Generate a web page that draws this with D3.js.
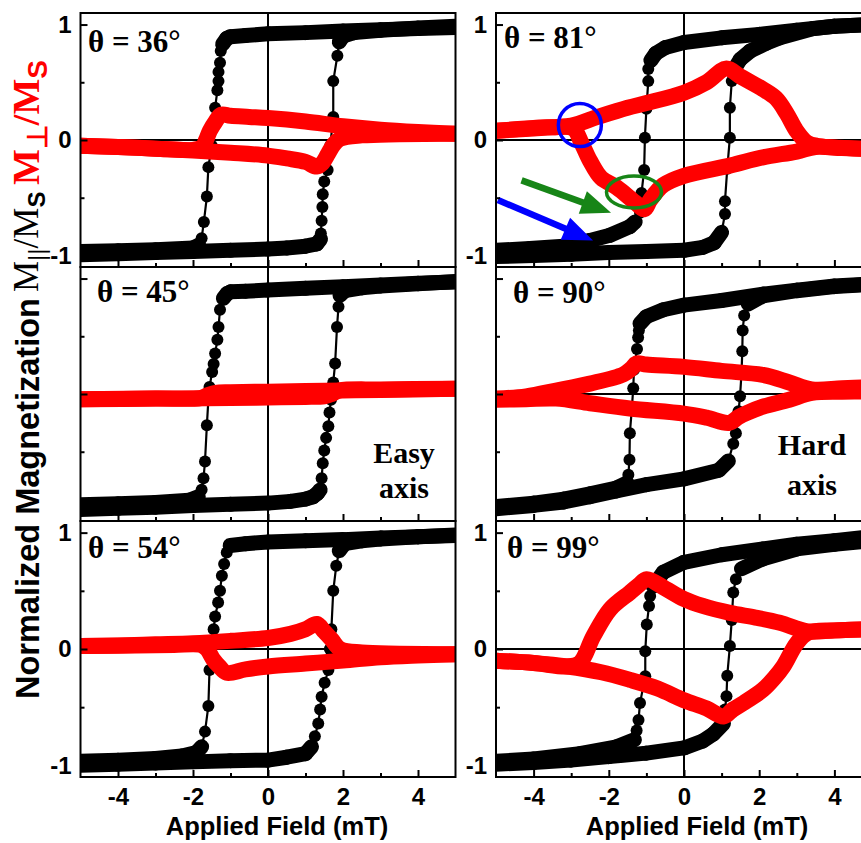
<!DOCTYPE html>
<html><head><meta charset="utf-8">
<script src="https://cdn.jsdelivr.net/npm/d3@7"></script>
<style>body{margin:0;background:#fff}svg{display:block}</style>
</head><body>
<svg id="chart" width="861" height="843"></svg>
<script>
// ---------------- DATA ----------------
const xMajorTicks = [-4, -2, 0, 2, 4];
const xMinorTicks = [-3, -1, 1, 3];
const yMajorTicks = [-1, 0, 1];
const yMinorTicks = [-0.5, 0.5];
const angleLabels = ["θ = 36°", "θ = 81°", "θ = 45°", "θ = 90°", "θ = 54°", "θ = 99°"];

// theta = 36 deg
const parDown36 = [[5,0.975],[4,0.965],[3,0.955],[2,0.945],[1,0.93],[0,0.92],[-0.6,0.905],[-1.0,0.895],[-1.1,0.88],[-1.21,0.83],[-1.26,0.77],[-1.28,0.67],[-1.32,0.59],[-1.32,0.51],[-1.35,0.43],[-1.41,0.28],[-1.45,0.12],[-1.5,-0.05],[-1.59,-0.235],[-1.63,-0.49],[-1.71,-0.71],[-1.77,-0.85],[-1.85,-0.91],[-2.0,-0.935],[-3,-0.95],[-4,-0.96],[-5,-0.965]];
const parUp36 = [[-5,-0.995],[-4,-0.985],[-3,-0.975],[-2,-0.965],[-1,-0.955],[0,-0.945],[0.5,-0.935],[1,-0.92],[1.3,-0.9],[1.4,-0.86],[1.41,-0.81],[1.43,-0.70],[1.45,-0.58],[1.46,-0.47],[1.5,-0.36],[1.59,-0.26],[1.66,-0.05],[1.74,0.2],[1.74,0.51],[1.85,0.73],[1.9,0.85],[2.0,0.9],[2.3,0.93],[3,0.95],[4,0.97],[5,0.985]];
const perpUp36 = [[-5,-0.05],[-4,-0.06],[-3,-0.075],[-2,-0.09],[-1,-0.11],[0,-0.135],[0.5,-0.16],[1,-0.19],[1.3,-0.23],[1.45,-0.2],[1.6,-0.12],[1.75,-0.04],[1.92,0.01],[2.5,0.04],[3.5,0.05],[5,0.055]];
const perpDown36 = [[5,0.055],[4,0.07],[3,0.09],[2,0.12],[1,0.16],[0,0.19],[-0.5,0.2],[-1.0,0.21],[-1.25,0.22],[-1.4,0.16],[-1.55,0.08],[-1.65,0.0],[-1.75,-0.06],[-2,-0.085],[-3,-0.075],[-4,-0.06],[-5,-0.05]];

// theta = 81 deg
const parDown81 = [[5,1.0],[4,0.985],[3,0.95],[2,0.915],[1,0.885],[0,0.845],[-0.5,0.8],[-0.75,0.75],[-0.88,0.69],[-0.95,0.615],[-0.95,0.51],[-1.0,0.27],[-1.04,0.02],[-1.06,-0.26],[-1.13,-0.46],[-1.17,-0.63],[-1.3,-0.71],[-1.44,-0.75],[-1.97,-0.825],[-2.5,-0.87],[-3.2,-0.92],[-4.1,-0.94],[-5,-0.955]];
const parUp81 = [[-5,-1.01],[-4,-1.0],[-3,-0.99],[-2,-0.975],[-1,-0.965],[0,-0.955],[0.5,-0.93],[0.8,-0.89],[1.0,-0.8],[1.09,-0.64],[1.09,-0.53],[1.15,-0.25],[1.22,0.02],[1.22,0.28],[1.27,0.51],[1.35,0.62],[1.5,0.7],[1.76,0.77],[2.2,0.84],[2.55,0.885],[3.44,0.965],[4,0.985],[5,1.0]];
const perpUp81 = [[-5,0.08],[-4,0.105],[-3,0.125],[-2.3,0.2],[-1.5,0.28],[-1,0.32],[0,0.41],[0.6,0.5],[1.13,0.62],[1.5,0.55],[2.1,0.44],[2.45,0.36],[2.73,0.23],[2.99,0.08],[3.26,-0.02],[3.53,-0.05],[4.7,-0.075],[5,-0.08]];
const perpDown81 = [[5,-0.08],[4.2,-0.07],[3.5,-0.06],[3,-0.1],[2.1,-0.15],[1.24,-0.22],[0,-0.31],[-0.55,-0.39],[-0.9,-0.52],[-1.05,-0.6],[-1.3,-0.54],[-1.79,-0.41],[-2.2,-0.33],[-2.5,-0.18],[-2.72,-0.03],[-2.95,0.1],[-3.5,0.11],[-4,0.1],[-5,0.08]];

// theta = 45 deg
const parDown45 = [[5,0.97],[4,0.96],[3,0.945],[2,0.93],[1,0.915],[0,0.9],[-0.6,0.89],[-1.0,0.885],[-1.09,0.87],[-1.19,0.83],[-1.28,0.73],[-1.32,0.58],[-1.35,0.47],[-1.41,0.35],[-1.45,0.26],[-1.49,0.19],[-1.56,0.06],[-1.59,-0.05],[-1.63,-0.27],[-1.68,-0.585],[-1.72,-0.73],[-1.77,-0.83],[-1.86,-0.89],[-2.1,-0.92],[-3,-0.94],[-4,-0.95],[-5,-0.96]];
const parUp45 = [[-5,-1.0],[-4,-0.99],[-3,-0.98],[-2,-0.965],[-1,-0.955],[0,-0.945],[0.6,-0.93],[1.0,-0.91],[1.2,-0.89],[1.32,-0.86],[1.39,-0.83],[1.43,-0.73],[1.46,-0.6],[1.5,-0.49],[1.55,-0.38],[1.61,-0.28],[1.64,-0.16],[1.68,-0.05],[1.74,0.1],[1.79,0.265],[1.84,0.58],[1.88,0.755],[1.92,0.855],[2.05,0.895],[2.5,0.92],[3,0.935],[4,0.955],[5,0.975]];
const perpUp45 = [[-5,-0.045],[-3,-0.04],[-1,-0.035],[0,-0.03],[1,-0.025],[1.5,-0.02],[1.7,0.0],[1.9,0.03],[3,0.04],[5,0.045]];
const perpDown45 = [[5,0.045],[3,0.035],[2,0.03],[1,0.025],[0,0.02],[-1,0.015],[-1.4,0.01],[-1.6,-0.01],[-1.8,-0.035],[-3,-0.04],[-5,-0.045]];

// theta = 90 deg
const parDown90 = [[5,0.955],[4,0.935],[3,0.9],[2.1,0.865],[1,0.81],[0,0.77],[-0.55,0.73],[-1.0,0.67],[-1.17,0.61],[-1.2,0.55],[-1.22,0.49],[-1.25,0.39],[-1.33,0.21],[-1.35,0.05],[-1.39,-0.14],[-1.44,-0.34],[-1.45,-0.57],[-1.48,-0.7],[-1.52,-0.77],[-1.8,-0.815],[-2.5,-0.865],[-3.2,-0.91],[-4,-0.945],[-5,-0.975]];
const parUp90 = [[-5,-0.995],[-4,-0.965],[-3.2,-0.935],[-2.5,-0.89],[-1.8,-0.84],[-1,-0.785],[0,-0.735],[0.93,-0.66],[1.18,-0.58],[1.31,-0.43],[1.38,-0.34],[1.45,-0.15],[1.49,-0.02],[1.53,0.18],[1.55,0.37],[1.56,0.55],[1.6,0.68],[1.71,0.78],[2.1,0.85],[3,0.895],[4,0.93],[5,0.95]];
const perpUp90 = [[-5,-0.05],[-4.2,-0.045],[-3.4,-0.04],[-2.5,-0.08],[-1.44,-0.125],[0,-0.17],[0.6,-0.205],[1.2,-0.25],[1.45,-0.2],[1.67,-0.165],[2.1,-0.11],[2.8,-0.05],[3.4,0.01],[4.2,0.02],[5,0.02]];
const perpDown90 = [[5,0.06],[4.2,0.05],[3.4,0.04],[2.8,0.1],[2.1,0.165],[1,0.2],[0,0.235],[-1,0.255],[-1.26,0.265],[-1.4,0.22],[-1.61,0.17],[-2.5,0.09],[-3.4,0.03],[-4.2,-0.02],[-5,-0.04]];

// theta = 54 deg
const parDown54 = [[5,0.975],[4,0.965],[3,0.955],[2,0.94],[1,0.93],[0,0.92],[-0.6,0.905],[-1.01,0.89],[-1.1,0.83],[-1.17,0.73],[-1.23,0.63],[-1.28,0.5],[-1.33,0.4],[-1.41,0.28],[-1.45,0.17],[-1.53,0.055],[-1.56,-0.18],[-1.59,-0.49],[-1.68,-0.71],[-1.77,-0.84],[-1.91,-0.89],[-2.3,-0.92],[-3,-0.94],[-4,-0.955],[-5,-0.965]];
const parUp54 = [[-5,-1.0],[-4,-0.99],[-3,-0.98],[-2,-0.97],[-1,-0.96],[0,-0.955],[0.5,-0.93],[1,-0.9],[1.16,-0.84],[1.25,-0.75],[1.34,-0.64],[1.39,-0.52],[1.43,-0.41],[1.51,-0.29],[1.61,-0.18],[1.65,0.0],[1.69,0.17],[1.74,0.5],[1.82,0.715],[1.9,0.845],[2.04,0.905],[2.5,0.93],[3,0.945],[4,0.965],[5,0.98]];
const perpUp54 = [[-5,0.025],[-4,0.03],[-3,0.04],[-2,0.05],[-1,0.07],[0,0.095],[0.6,0.13],[1,0.17],[1.3,0.215],[1.5,0.15],[1.7,0.08],[1.92,0.0],[2.5,-0.03],[3.5,-0.04],[5,-0.045]];
const perpDown54 = [[5,-0.045],[4,-0.055],[3,-0.07],[2,-0.1],[1,-0.125],[0,-0.15],[-0.6,-0.175],[-1.1,-0.205],[-1.3,-0.15],[-1.46,-0.09],[-1.63,0.0],[-1.8,0.035],[-2.5,0.035],[-3.5,0.03],[-5,0.025]];

// theta = 99 deg
const parDown99 = [[5,0.965],[4,0.93],[3,0.9],[2.1,0.86],[1,0.81],[0,0.745],[-0.55,0.66],[-0.82,0.54],[-0.9,0.455],[-0.93,0.37],[-0.99,0.21],[-1.03,-0.02],[-1.03,-0.235],[-1.17,-0.465],[-1.21,-0.61],[-1.26,-0.70],[-1.32,-0.78],[-1.79,-0.84],[-2.77,-0.9],[-4,-0.945],[-5,-0.965]];
const parUp99 = [[-5,-0.99],[-4,-0.975],[-3,-0.955],[-2,-0.925],[-1,-0.895],[0,-0.85],[0.5,-0.79],[0.78,-0.73],[1.05,-0.64],[1.09,-0.52],[1.13,-0.405],[1.15,-0.23],[1.22,0.025],[1.27,0.25],[1.31,0.485],[1.38,0.6],[1.53,0.69],[2.1,0.775],[3,0.86],[4,0.9],[5,0.93]];
const perpUp99 = [[-5,-0.1],[-4,-0.12],[-3.1,-0.15],[-2.2,-0.2],[-1.44,-0.265],[-0.7,-0.34],[0,-0.44],[0.6,-0.51],[1.05,-0.58],[1.3,-0.52],[1.58,-0.465],[2.1,-0.35],[2.4,-0.25],[2.64,-0.15],[3.0,0.05],[3.3,0.14],[4,0.16],[5,0.17]];
const perpDown99 = [[5,0.17],[4,0.16],[3.3,0.15],[2.55,0.225],[1.9,0.27],[1.22,0.31],[0.5,0.37],[0,0.43],[-0.5,0.52],[-0.99,0.6],[-1.2,0.55],[-1.44,0.485],[-1.97,0.34],[-2.41,0.11],[-2.77,-0.12],[-3.1,-0.15],[-4,-0.12],[-5,-0.1]];

// annotations in the theta = 81 panel (data coordinates)
const circleNotes = [{x:-2.77, y:0.13, rx:21.5, ry:21.5, color:"#0000ff"}, {x:-1.33, y:-0.45, rx:27.5, ry:16, color:"#178517"}];
const arrowNotes = [{from:[-4.32,-0.35], to:[-1.94,-0.63], color:"#178517"}, {from:[-4.95,-0.52], to:[-2.42,-0.87], color:"#0000ff"}];

// ---------------- LAYOUT ----------------
const svg = d3.select("#chart");
const colRange = [[80.5, 455.5], [496, 872]];
const rowRange = [[13, 267], [267, 521], [521, 777]];
const SANS = "'Liberation Sans', Arial, Helvetica, sans-serif";
const SERIF = "'Liberation Serif', 'Times New Roman', Times, serif";

const panels = [
  {col:0,row:0,label:angleLabels[0],lx:88,ly:52, up:parUp36, down:parDown36, pu:perpUp36, pd:perpDown36},
  {col:1,row:0,label:angleLabels[1],lx:504,ly:48, up:parUp81, down:parDown81, pu:perpUp81, pd:perpDown81, notes:true},
  {col:0,row:1,label:angleLabels[2],lx:97,ly:302, up:parUp45, down:parDown45, pu:perpUp45, pd:perpDown45, side:["Easy","axis"], sx:404, sy:[463,498]},
  {col:1,row:1,label:angleLabels[3],lx:513,ly:303, up:parUp90, down:parDown90, pu:perpUp90, pd:perpDown90, side:["Hard","axis"], sx:812, sy:[455,495]},
  {col:0,row:2,label:angleLabels[4],lx:88,ly:558, up:parUp54, down:parDown54, pu:perpUp54, pd:perpDown54},
  {col:1,row:2,label:angleLabels[5],lx:507,ly:558, up:parUp99, down:parDown99, pu:perpUp99, pd:perpDown99}
];

panels.forEach((p, i) => {
  const [x0, x1] = colRange[p.col];
  const [y0, y1] = rowRange[p.row];
  const x = d3.scaleLinear().domain([-5, 5]).range([x0, x1]);
  const y = d3.scaleLinear().domain([-1.1, 1.1]).range([y1, y0]);
  const g = svg.append("g");
  const clipId = "clip" + i;
  g.append("clipPath").attr("id", clipId).append("rect")
    .attr("x", x0).attr("y", y0).attr("width", x1 - x0).attr("height", y1 - y0);
  const plot = g.append("g").attr("clip-path", `url(#${clipId})`);

  // zero lines
  plot.append("line").attr("x1", x(0)).attr("x2", x(0)).attr("y1", y0).attr("y2", y1)
    .attr("stroke", "#000").attr("stroke-width", 2);
  plot.append("line").attr("x1", x0).attr("x2", x1).attr("y1", y(0)).attr("y2", y(0))
    .attr("stroke", "#000").attr("stroke-width", 2);

  // black parallel loop
  const line = d3.line().x(d => x(d[0])).y(d => y(d[1]));
  [p.down, p.up].forEach(br => {
    plot.append("path").attr("d", line(br)).attr("fill", "none")
      .attr("stroke", "#000").attr("stroke-width", 2.2);
    for (let k = 0; k < br.length - 1; k++) {
      const dx = Math.abs(x(br[k+1][0]) - x(br[k][0]));
      const dy = Math.abs(y(br[k+1][1]) - y(br[k][1]));
      if (dy < 1.8 * dx) {
        plot.append("line").attr("x1", x(br[k][0])).attr("y1", y(br[k][1]))
          .attr("x2", x(br[k+1][0])).attr("y2", y(br[k+1][1]))
          .attr("stroke", "#000").attr("stroke-width", 15).attr("stroke-linecap", "round");
      }
    }
    plot.selectAll(null).data(br).enter().append("circle")
      .attr("cx", d => x(d[0])).attr("cy", d => y(d[1])).attr("r", 6).attr("fill", "#000");
  });

  // red perpendicular loop
  const rline = d3.line().x(d => x(d[0])).y(d => y(d[1])).curve(d3.curveCatmullRom.alpha(0.5));
  [p.pd, p.pu].forEach(br => {
    plot.append("path").attr("d", rline(br)).attr("fill", "none")
      .attr("stroke", "#ff0000").attr("stroke-width", 16)
      .attr("stroke-linejoin", "round").attr("stroke-linecap", "round");
  });

  // annotations
  if (p.notes) {
    circleNotes.forEach(c => {
      plot.append("ellipse").attr("cx", x(c.x)).attr("cy", y(c.y)).attr("rx", c.rx).attr("ry", c.ry)
        .attr("fill", "none").attr("stroke", c.color).attr("stroke-width", 3.5);
    });
    arrowNotes.forEach(a => {
      const ax = x(a.from[0]), ay = y(a.from[1]), bx = x(a.to[0]), by = y(a.to[1]);
      const ang = Math.atan2(by - ay, bx - ax);
      const hl = 30, hw = 12;
      const cx = bx - hl * Math.cos(ang), cy = by - hl * Math.sin(ang);
      plot.append("line").attr("x1", ax).attr("y1", ay).attr("x2", cx + 4*Math.cos(ang)).attr("y2", cy + 4*Math.sin(ang))
        .attr("stroke", a.color).attr("stroke-width", 6.5);
      const pts = [[bx, by], [cx - hw*Math.sin(ang), cy + hw*Math.cos(ang)], [cx + hw*Math.sin(ang), cy - hw*Math.cos(ang)]];
      plot.append("polygon").attr("points", pts.map(q => q.join(",")).join(" ")).attr("fill", a.color);
    });
  }

  // frame
  g.append("rect").attr("x", x0).attr("y", y0).attr("width", x1 - x0).attr("height", y1 - y0)
    .attr("fill", "none").attr("stroke", "#000").attr("stroke-width", 2);

  // axes
  const showY = p.row !== 1;
  g.append("g").attr("transform", `translate(${x0},0)`)
    .call(d3.axisLeft(y).tickValues(yMajorTicks).tickSize(-7).tickPadding(9)
      .tickFormat(d => showY ? String(d) : ""));
  g.append("g").attr("transform", `translate(${x0},0)`)
    .call(d3.axisLeft(y).tickValues(yMinorTicks).tickSize(-4).tickFormat(""));
  g.append("g").attr("transform", `translate(0,${y1})`)
    .call(d3.axisBottom(x).tickValues(xMajorTicks).tickSize(-7).tickPadding(11)
      .tickFormat(d => p.row === 2 ? String(d) : ""));
  g.append("g").attr("transform", `translate(0,${y1})`)
    .call(d3.axisBottom(x).tickValues(xMinorTicks).tickSize(-4).tickFormat(""));
  g.selectAll(".domain").remove();
  g.selectAll(".tick line").attr("stroke", "#000").attr("stroke-width", 2);
  g.selectAll(".tick text").attr("font-family", SANS).attr("font-weight", "bold")
    .attr("font-size", 24).attr("fill", "#000");

  // labels
  g.append("text").attr("x", p.lx).attr("y", p.ly).style("font-family", SERIF)
    .attr("font-weight", "bold").attr("font-size", 31).attr("fill", "#000").text(p.label);
  if (p.side) {
    p.side.forEach((t, k) => {
      g.append("text").attr("x", p.sx).attr("y", p.sy[k]).attr("text-anchor", "middle")
        .style("font-family", SERIF).attr("font-weight", "bold").attr("font-size", 30).text(t);
    });
  }
  if (p.row === 2) {
    g.append("text").attr("x", p.col === 0 ? 277 : 697).attr("y", 835).attr("text-anchor", "middle")
      .attr("font-family", SANS).attr("font-weight", "bold").attr("font-size", 25.5).text("Applied Field (mT)");
  }
});

// y-axis title
svg.append("text").attr("transform", "translate(39,699) rotate(-90)")
  .attr("font-family", SANS).attr("font-weight", "bold").attr("font-size", 32.5)
  .text("Normalized Magnetization");
const t2 = svg.append("text").attr("transform", "translate(38,292) rotate(-90)")
  .style("font-family", SERIF).attr("font-size", 35).attr("fill", "#000");
t2.append("tspan").text("M");
t2.append("tspan").attr("dy", 7).attr("font-size", 24).style("font-family", SANS).text("||");
t2.append("tspan").attr("dy", -7).text("/M");
t2.append("tspan").attr("dy", 7).attr("font-size", 24).style("font-family", SANS).attr("font-weight","bold").text("S");
const t3 = svg.append("text").attr("transform", "translate(39,185) rotate(-90)")
  .style("font-family", SERIF).attr("font-weight", "bold").attr("font-size", 38).attr("fill", "#ff0000");
t3.append("tspan").text("M");
t3.append("tspan").attr("dy", 8).attr("font-size", 28).text("⊥");
t3.append("tspan").attr("dy", -8).text("/M");
t3.append("tspan").attr("dy", 8).attr("font-size", 28).style("font-family", SANS).text("S");
</script>
</body></html>
